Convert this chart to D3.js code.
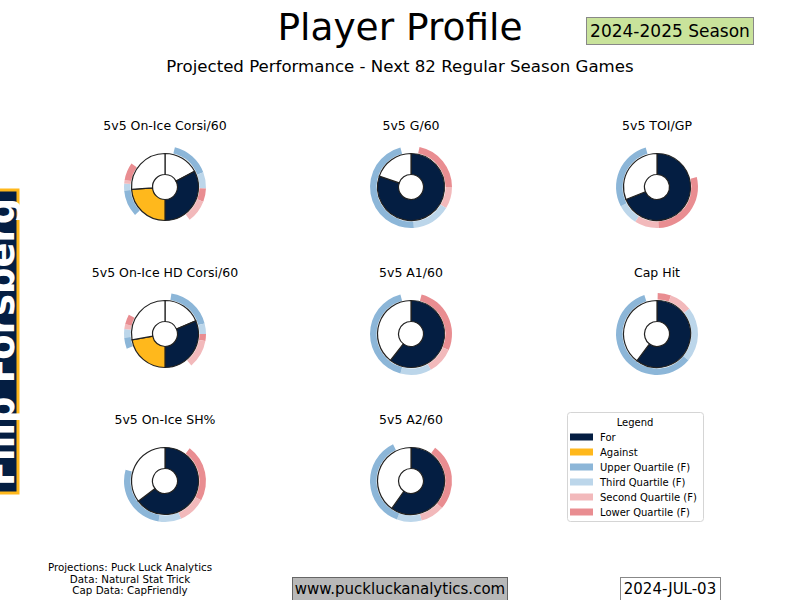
<!DOCTYPE html>
<html><head><meta charset="utf-8">
<script src="https://cdn.jsdelivr.net/npm/d3@7"></script>
<style>body{margin:0;background:#fff;} text{font-family:"DejaVu Sans",sans-serif;}</style>
</head><body>
<svg id="chart" width="800" height="600"></svg>
<script>
// ---- data ----
const chartTitles = ["5v5 On-Ice Corsi/60","5v5 G/60","5v5 TOI/GP","5v5 On-Ice HD Corsi/60","5v5 A1/60","Cap Hit","5v5 On-Ice SH%","5v5 A2/60"];
// navy (For) arc length in degrees
const forDeg = [118, 289, 248, 113, 218, 217, 233, 215];
// gold (Against) arc length in degrees (two-sided charts only)
const againstDeg = [86, null, null, 80, null, null, null, null];
// quartile ring segments: [quartile index, start deg, end deg]
const ringSegs = [
  [[0,14,69],[1,69,92],[3,92,111],[2,111,143],[0,227,265],[1,265,275],[2,275,280],[3,280,305]],
  [[3,12,90],[2,90,121],[1,121,176],[0,176,345]],
  [[3,76,178],[2,178,212],[1,212,242],[0,242,344]],
  [[0,9,75],[1,75,90],[3,90,100],[2,100,140],[0,249,265],[1,265,277],[2,277,284],[3,284,298]],
  [[3,15,113],[2,113,151],[1,151,195],[0,195,345]],
  [[3,1,20],[2,20,52],[1,52,130],[0,130,342]],
  [[3,37,118],[2,118,157],[1,157,189],[0,189,286]],
  [[3,36,131],[2,131,165],[1,165,200],[0,200,334]]
];
const legendLabels = ["For","Against","Upper Quartile (F)","Third Quartile (F)","Second Quartile (F)","Lower Quartile (F)"];
const sourceLines = ["Projections: Puck Luck Analytics","Data: Natural Stat Trick","Cap Data: CapFriendly"];
const playerName = "Filip Forsberg";

// ---- styles ----
const NAVY = "#041e42", GOLD = "#ffb81c";
const quartColors = ["#8cb6d8","#bcd6ea","#f2b9bb","#e98d91"];
const legendColors = [NAVY, GOLD, ...quartColors];

const svg = d3.select("#chart");
const ang = d3.scaleLinear().domain([0,360]).range([0, 2*Math.PI]);
const colX = d3.scalePoint().domain([0,1,2]).range([165,657]);
const rowY = d3.scalePoint().domain([0,1,2]).range([187,481]);

svg.append("text").attr("x",400).attr("y",40).attr("text-anchor","middle").attr("font-size",37.5).text("Player Profile");
svg.append("text").attr("x",400).attr("y",72).attr("text-anchor","middle").attr("font-size",16.6).text("Projected Performance - Next 82 Regular Season Games");

// season box
svg.append("rect").attr("x",586.5).attr("y",17.5).attr("width",167).attr("height",27).attr("fill","#c9e39b").attr("stroke","#888");
svg.append("text").attr("x",670).attr("y",36.5).attr("text-anchor","middle").attr("font-size",17).text("2024-2025 Season");

// name box
svg.append("rect").attr("x",-10).attr("y",190).attr("width",28).attr("height",303).attr("fill",NAVY).attr("stroke",GOLD).attr("stroke-width",3);
svg.append("text").attr("transform","translate(14,342) rotate(-90)").attr("text-anchor","middle").attr("font-size",37).attr("font-weight","bold").attr("fill","#fff").text(playerName);

const pieArc = d3.arc().innerRadius(12.5).outerRadius(33.5);
const ringArc = d3.arc().innerRadius(34.5).outerRadius(41);

chartTitles.forEach((t,i) => {
  const cx = colX(i%3), cy = rowY(Math.floor(i/3));
  svg.append("text").attr("x",cx).attr("y",cy-57).attr("text-anchor","middle").attr("font-size",12.5).text(t);
  const g = svg.append("g").attr("transform",`translate(${cx},${cy})`);
  let segs;
  if (againstDeg[i] != null) {
    segs = [
      {c:"#fff", s:0, e:180-forDeg[i]},
      {c:NAVY, s:180-forDeg[i], e:180},
      {c:GOLD, s:180, e:180+againstDeg[i]},
      {c:"#fff", s:180+againstDeg[i], e:360}
    ];
  } else {
    segs = [{c:NAVY, s:0, e:forDeg[i]}, {c:"#fff", s:forDeg[i], e:360}];
  }
  g.selectAll("path.ring").data(ringSegs[i]).join("path").attr("class","ring")
    .attr("d", d => ringArc({startAngle:ang(d[1]), endAngle:ang(d[2])}))
    .attr("fill", d => quartColors[d[0]]);
  g.selectAll("path.pie").data(segs).join("path").attr("class","pie")
    .attr("d", d => pieArc({startAngle:ang(d.s), endAngle:ang(d.e)}))
    .attr("fill", d => d.c).attr("stroke","#222").attr("stroke-width",1.2);
});

// legend
const lg = svg.append("g").attr("transform","translate(567,412)");
lg.append("rect").attr("x",0.5).attr("y",0.5).attr("width",136).attr("height",109).attr("rx",3).attr("fill","#fff").attr("stroke","#d5d5d5");
lg.append("text").attr("x",68).attr("y",14).attr("text-anchor","middle").attr("font-size",10).text("Legend");
legendLabels.forEach((l,i) => {
  const y = 25 + i*15;
  lg.append("rect").attr("x",3).attr("y",y-3.5).attr("width",23).attr("height",7).attr("fill",legendColors[i]);
  lg.append("text").attr("x",33).attr("y",y+3.5).attr("font-size",10).text(l);
});

// sources
sourceLines.forEach((s,i) => {
  svg.append("text").attr("x",130).attr("y",571+i*11.5).attr("text-anchor","middle").attr("font-size",10.3).text(s);
});
// website box
svg.append("rect").attr("x",292.5).attr("y",577.5).attr("width",215).attr("height",25).attr("fill","#b8b8b8").attr("stroke","#666");
svg.append("text").attr("x",400).attr("y",594).attr("text-anchor","middle").attr("font-size",15).text("www.puckluckanalytics.com");
svg.append("rect").attr("x",620.5).attr("y",577.5).attr("width",100).attr("height",25).attr("fill","#fff").attr("stroke","#888");
svg.append("text").attr("x",670).attr("y",594).attr("text-anchor","middle").attr("font-size",15).text("2024-JUL-03");
</script>
</body></html>
